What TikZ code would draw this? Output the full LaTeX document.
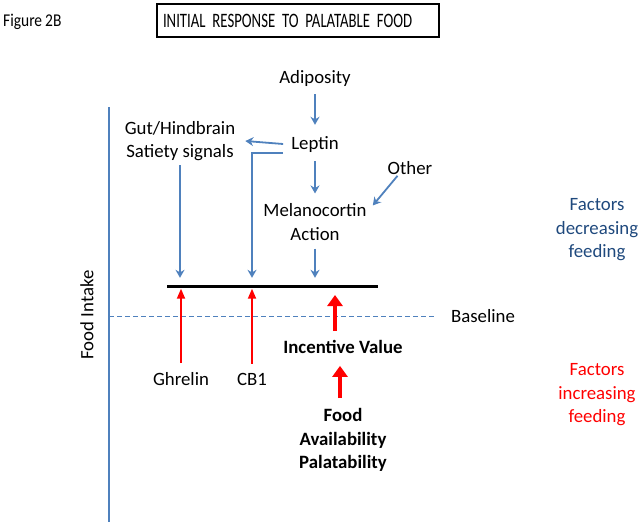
\documentclass[tikz,border=0pt]{standalone}
\usepackage{fontspec}
\setmainfont{Carlito}
\newfontfamily\titlefont[FakeStretch=0.72, WordSpace=0.6]{Carlito}
\newfontfamily\figfont[FakeStretch=0.86, WordSpace=0.86]{Carlito}
\usetikzlibrary{arrows.meta,positioning}
\definecolor{steel}{HTML}{4F81BD}
\definecolor{deepblue}{HTML}{1F497D}
\definecolor{signal}{HTML}{FF0000}
\tikzset{
  lbl/.style={align=center, inner sep=0pt, font=\fontsize{18.8}{23.5}\selectfont},
  boldlbl/.style={lbl, font=\fontsize{18.8}{23.5}\selectfont\bfseries},
  down/.style={-{Stealth[length=8pt,width=9pt]}, draw=steel, line width=1.8pt},
  up/.style={-{Triangle[length=10pt,width=8pt]}, draw=signal, line width=1.8pt},
  bigup/.style={-{Triangle[length=11pt,width=15pt]}, draw=signal, line width=4.5pt},
  axisline/.style={draw=steel, line width=1.8pt},
  dashline/.style={draw=steel, line width=0.9pt, dash pattern=on 5pt off 3pt},
}

\begin{document}
\begin{tikzpicture}[x=1pt, y=-1pt]
\useasboundingbox (0,0) rectangle (642,527);
\node[inner sep=0pt, anchor=west, font=\figfont\fontsize{18}{20}\selectfont] (fig) at (3,22) {Figure 2B};
\node[draw, line width=1.8pt, minimum width=282, minimum height=33,
      text width=270, inner sep=6pt, align=left,
      font=\titlefont\fontsize{20.5}{22}\selectfont] (title) at (298,20.5)
 {INITIAL RESPONSE TO PALATABLE FOOD};

\node[lbl] (adip) at (315,78) {Adiposity};
\node[lbl] (lep) at (315,145) {Leptin};
\node[lbl] (gut) at (180,141) {Gut/Hindbrain\\Satiety signals};
\node[lbl] (other) at (410,168) {Other};
\node[lbl] (mc) at (315,222) {Melanocortin\\Action};
\node[fill=black, minimum width=211, minimum height=3, inner sep=0pt] (bar) at (272.5,286) {};

\node[lbl] (ghr) at (181,379) {Ghrelin};
\node[lbl] (cb) at (252,379) {CB1};
\node[boldlbl] (inc) at (343,347) {Incentive Value};
\node[boldlbl] (food) at (343,440) {Food\\Availability\\Palatability};
\node[lbl] (base) at (483,316) {Baseline};
\node[lbl, rotate=90] (fi) at (87,315) {Food Intake};
\node[lbl, text=deepblue] (dec) at (597,230) {Factors\\decreasing\\feeding};
\node[lbl, text=signal] (incr) at (597,395) {Factors\\increasing\\feeding};

\coordinate (axtop) at (109,107);
\coordinate (axbot) at (109,522);
\coordinate (ivtip) at (335,295);
\draw[axisline] (axtop) -- (axbot);
\draw[dashline] (axtop |- base) -- ([xshift=-17pt]base.west);

% signals that lower intake
\draw[down, shorten <=8pt, shorten >=12pt] (adip) -- (lep);
\draw[down, shorten <=8pt, shorten >=10pt] (lep) -- (mc);
\draw[down, shorten <=8pt, shorten >=6.5pt] (mc) -- (mc |- bar.north);
\draw[down, shorten <=4pt, shorten >=6.5pt] (gut) -- (gut |- bar.north);
\draw[down] ([xshift=-8pt,yshift=1pt]lep.west) -- ([xshift=10pt]gut.east);
\draw[down, shorten >=6.5pt] ([xshift=-8pt,yshift=-8pt]lep.west) -| (cb |- bar.north);
\draw[down] ([xshift=10pt,yshift=-1pt]other.south west) -- ([xshift=6pt,yshift=-2pt]mc.north east);

% signals that raise intake
\draw[up, shorten <=9pt, shorten >=1pt] (ghr) -- (ghr |- bar.south);
\draw[up, shorten <=9pt, shorten >=1pt] (cb) -- (cb |- bar.south);
\draw[bigup, shorten <=9pt] ([xshift=-8pt]inc.north) -- (ivtip);
\draw[bigup, shorten <=10pt, shorten >=12pt] ([xshift=-3pt]food.north) -- ([xshift=-3pt]inc.south);
\end{tikzpicture}
\end{document}
